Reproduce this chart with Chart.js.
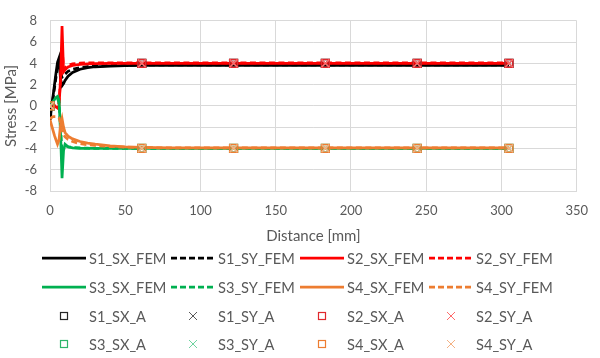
<!DOCTYPE html>
<html>
<head>
<meta charset="utf-8">
<script src="https://cdn.jsdelivr.net/npm/chart.js@4"></script>
<style>
  html, body { margin:0; padding:0; background:#fff; }
  #wrap { position:relative; width:600px; height:358px; overflow:hidden; font-family: Lato, "Liberation Sans", sans-serif; }
  #box { position:absolute; left:0; top:0; width:600px; height:245px; }
  #legend { position:absolute; left:0; top:0; width:600px; height:358px; pointer-events:none; }
  .item { position:absolute; height:20px; display:flex; align-items:center; font-size:14.6px; color:#595959; white-space:nowrap; }
  .item svg { display:block; margin-right:3px; }
</style>
</head>
<body>
<div id="wrap">
  <div id="box"><canvas id="c"></canvas></div>
  <div id="legend"></div>
</div>
<script>
// ---- data ----
const xFem = [0, 1, 2, 3, 4, 5, 6, 7, 8, 9, 10, 12, 15, 20, 25, 30, 40, 50, 61, 80, 100, 122, 150, 183, 200, 244, 275, 305];
const s1sxFem = [-1.3, -0.2, 0.9, 2.0, 3.1, 4.1, 4.5, 2.5, 1.9, 2.1, 2.4, 2.8, 3.15, 3.45, 3.6, 3.68, 3.75, 3.78, 3.8, 3.8, 3.8, 3.8, 3.8, 3.8, 3.8, 3.8, 3.8, 3.8];
const s1syFem = [-1.3, -0.3, 0.7, 1.7, 2.7, 3.6, 4.0, 3.2, 2.7, 2.8, 3.0, 3.25, 3.45, 3.6, 3.7, 3.75, 3.8, 3.82, 3.85, 3.85, 3.85, 3.85, 3.85, 3.85, 3.85, 3.85, 3.85, 3.85];
const s2sxFem = [0, 0, -0.1, -0.1, -0.1, -0.2, 0.0, 2.5, 7.5, 3.2, 3.4, 3.65, 3.8, 3.9, 3.95, 3.97, 4.0, 4.0, 4.0, 4.0, 4.0, 4.0, 4.0, 4.0, 4.0, 4.0, 4.0, 4.0];
const s2syFem = [0, 0, 0, 0, 0, 0, 0.3, 2.5, 5.5, 3.5, 3.6, 3.8, 3.95, 4.02, 4.05, 4.05, 4.05, 4.05, 4.05, 4.05, 4.05, 4.05, 4.05, 4.05, 4.05, 4.05, 4.05, 4.05];
const s3sxFem = [0, 0.2, 0.4, 0.6, 0.8, 0.9, 0.5, -2.5, -6.8, -4.2, -3.6, -3.85, -3.95, -4.0, -4.0, -4.0, -4.0, -4.0, -4.0, -4.0, -4.0, -4.0, -4.0, -4.0, -4.0, -4.0, -4.0, -4.0];
const s3syFem = [0, 0.15, 0.3, 0.45, 0.6, 0.7, 0.3, -1.8, -4.5, -3.8, -3.7, -3.85, -3.9, -3.95, -3.98, -4.0, -4.0, -4.0, -4.0, -4.0, -4.0, -4.0, -4.0, -4.0, -4.0, -4.0, -4.0, -4.0];
const s4sxFem = [-1.3, -1.8, -2.3, -2.8, -3.2, -3.6, -3.2, -1.8, -1.2, -2.0, -2.5, -2.85, -3.1, -3.35, -3.5, -3.6, -3.75, -3.85, -3.9, -3.95, -3.95, -3.95, -3.95, -3.95, -3.95, -3.95, -3.95, -3.95];
const s4syFem = [-1.2, -1.1, -1.0, -1.0, -1.0, -1.0, -1.1, -1.6, -2.2, -2.7, -2.9, -3.15, -3.35, -3.55, -3.65, -3.72, -3.82, -3.88, -3.92, -3.95, -3.95, -3.95, -3.95, -3.95, -3.95, -3.95, -3.95, -3.95];

const xA = [0, 61, 122, 183, 244, 305];
const s1sxA = [0, 4, 4, 4, 4, 4];
const s1syA = [0, 4, 4, 4, 4, 4];
const s2sxA = [0, 4, 4, 4, 4, 4];
const s2syA = [0, 4, 4, 4, 4, 4];
const s3sxA = [0, -4, -4, -4, -4, -4];
const s3syA = [0, -4, -4, -4, -4, -4];
const s4sxA = [0, -4, -4, -4, -4, -4];
const s4syA = [0, -4, -4, -4, -4, -4];

const xTicks = [0, 50, 100, 150, 200, 250, 300, 350];
const yTicks = [-8, -6, -4, -2, 0, 2, 4, 6, 8];

// ---- build ----
const BLACK = '#000000', RED = '#ff0000', GREEN = '#00b050', ORANGE = '#ed7d31';
const pts = (xs, ys) => xs.map((x, i) => ({x, y: ys[i]}));
const DASH = [6, 3.5];

const femDefs = [
  ['S1_SX_FEM', s1sxFem, BLACK, false],
  ['S1_SY_FEM', s1syFem, BLACK, true],
  ['S2_SX_FEM', s2sxFem, RED, false],
  ['S2_SY_FEM', s2syFem, RED, true],
  ['S3_SX_FEM', s3sxFem, GREEN, false],
  ['S3_SY_FEM', s3syFem, GREEN, true],
  ['S4_SX_FEM', s4sxFem, ORANGE, false],
  ['S4_SY_FEM', s4syFem, ORANGE, true],
];
const aDefs = [
  ['S1_SX_A', s1sxA, '#262626', 'rect'],
  ['S1_SY_A', s1syA, '#595959', 'crossRot'],
  ['S2_SX_A', s2sxA, '#e0282d', 'rect'],
  ['S2_SY_A', s2syA, '#ff6b6b', 'crossRot'],
  ['S3_SX_A', s3sxA, '#2db56a', 'rect'],
  ['S3_SY_A', s3syA, '#6fd3a0', 'crossRot'],
  ['S4_SX_A', s4sxA, '#ed7d31', 'rect'],
  ['S4_SY_A', s4syA, '#f4b183', 'crossRot'],
];

const datasets = [];
let idx = 0;
femDefs.forEach(([label, ys, color, dashed]) => {
  datasets.push({
    label, data: pts(xFem, ys), showLine: true, borderColor: color, backgroundColor: color,
    borderWidth: 2.75, borderDash: dashed ? DASH : [], pointRadius: 0, tension: 0,
    order: 100 - (idx++)
  });
});
aDefs.forEach(([label, ys, color, style]) => {
  datasets.push({
    label, data: pts(xA, ys), showLine: false, borderColor: color, backgroundColor: 'rgba(0,0,0,0)',
    pointStyle: style, pointRadius: 5.5, pointBorderWidth: 1.5, pointBorderColor: color,
    order: 100 - (idx++)
  });
});

const FONT = 'Lato, "Liberation Sans", sans-serif';
new Chart(document.getElementById('c'), {
  type: 'scatter',
  data: { datasets },
  options: {
    responsive: true, maintainAspectRatio: false, animation: false,
    layout: { padding: { left: 2, right: 18, top: 11, bottom: 0 } },
    plugins: { legend: { display: false }, tooltip: { enabled: false } },
    scales: {
      x: {
        type: 'linear', min: 0, max: 350,
        afterBuildTicks: s => { s.ticks = xTicks.map(v => ({value: v})); },
        afterFit: s => { s.height = 54; },
        grid: { color: '#d9d9d9', drawTicks: false },
        border: { color: '#d9d9d9' },
        ticks: { color: '#595959', font: { family: FONT, size: 13 }, padding: 12, maxRotation: 0 },
        title: { display: true, text: 'Distance [mm]', color: '#595959', font: { family: FONT, size: 15 }, padding: { top: 0, bottom: 0 } }
      },
      y: {
        type: 'linear', min: -8, max: 8,
        afterBuildTicks: s => { s.ticks = yTicks.map(v => ({value: v})); },
        afterFit: s => { s.width = 48; },
        grid: { color: '#d9d9d9', drawTicks: false },
        border: { color: '#d9d9d9' },
        ticks: { color: '#595959', font: { family: FONT, size: 13 }, padding: 13 },
        title: { display: true, text: 'Stress [MPa]', color: '#595959', font: { family: FONT, size: 15 }, padding: { top: 0, bottom: 0 } }
      }
    }
  }
});

// ---- HTML legend ----
const legend = document.getElementById('legend');
const colX = [42, 171, 300, 429];
const rowY = [258, 287, 316, 344];
function svgLine(color, dashed) {
  return `<svg width="44" height="6"><line x1="0" y1="3" x2="44" y2="3" stroke="${color}" stroke-width="2.75" ${dashed ? 'stroke-dasharray="6 3"' : ''}/></svg>`;
}
function svgMarker(color, style) {
  const inner = style === 'rect'
    ? `<rect x="18.5" y="3.5" width="7" height="7" fill="none" stroke="${color}" stroke-width="1.2"/>`
    : `<line x1="18" y1="3" x2="26" y2="11" stroke="${color}" stroke-width="1"/><line x1="26" y1="3" x2="18" y2="11" stroke="${color}" stroke-width="1"/>`;
  return `<svg width="44" height="14">${inner}</svg>`;
}
femDefs.forEach(([label, ys, color, dashed], i) => {
  const d = document.createElement('div');
  d.className = 'item';
  d.style.left = colX[i % 4] + 'px';
  d.style.top = (rowY[Math.floor(i / 4)] - 10) + 'px';
  d.innerHTML = svgLine(color, dashed) + '<span>' + label + '</span>';
  legend.appendChild(d);
});
aDefs.forEach(([label, ys, color, style], i) => {
  const d = document.createElement('div');
  d.className = 'item';
  d.style.left = colX[i % 4] + 'px';
  d.style.top = (rowY[2 + Math.floor(i / 4)] - 10) + 'px';
  d.innerHTML = svgMarker(color, style) + '<span>' + label + '</span>';
  legend.appendChild(d);
});
</script>
</body>
</html>
